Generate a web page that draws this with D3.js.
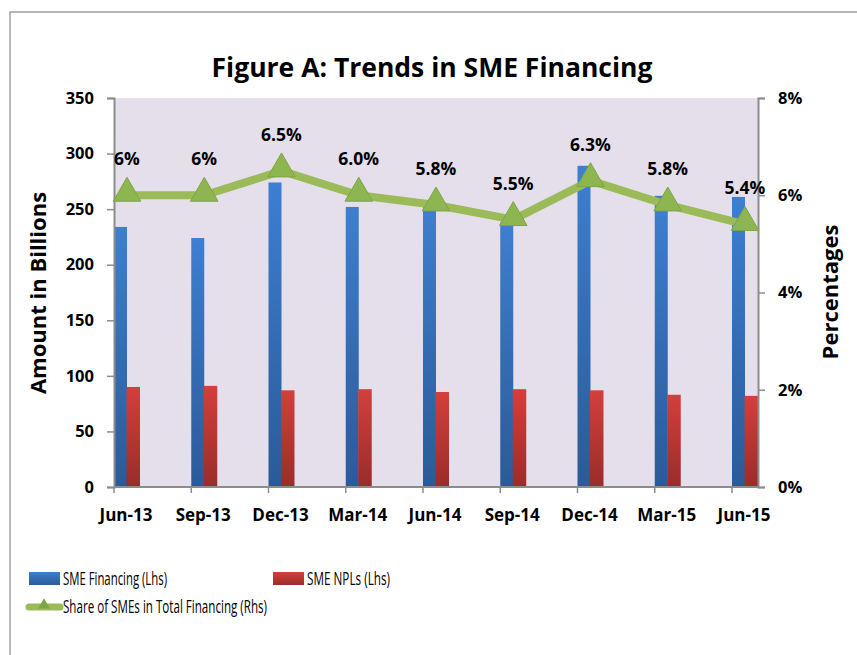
<!DOCTYPE html>
<html>
<head>
<meta charset="utf-8">
<script src="https://cdn.jsdelivr.net/npm/d3@7"></script>
<style>
  body { margin: 0; background: #fff; }
  text { font-family: 'Open Sans', sans-serif; }
</style>
</head>
<body>
<div id="chart"></div>
<script>
const months = ['Jun-13', 'Sep-13', 'Dec-13', 'Mar-14', 'Jun-14', 'Sep-14', 'Dec-14', 'Mar-15', 'Jun-15'];
const smeFinancing = [234, 224, 274, 252, 252, 238, 289, 262, 261];
const smeNpls = [90, 91, 87, 88, 85.5, 88, 87, 83, 82];
const smeShare = [6.0, 6.0, 6.5, 6.0, 5.8, 5.5, 6.3, 5.8, 5.4];
const shareLabels = ['6%', '6%', '6.5%', '6.0%', '5.8%', '5.5%', '6.3%', '5.8%', '5.4%'];
const leftTicks = [0, 50, 100, 150, 200, 250, 300, 350];
const rightTicks = [0, 2, 4, 6, 8];

const width = 857;
const height = 655;
const plot = {left: 114, right: 758, top: 98, bottom: 487};

const svg = d3.select('#chart').append('svg')
  .attr('width', width)
  .attr('height', height);

const defs = svg.append('defs');
const grad = (id, top, bottom) => {
  const g = defs.append('linearGradient').attr('id', id)
    .attr('x1', 0).attr('y1', 0).attr('x2', 0).attr('y2', 1);
  g.append('stop').attr('offset', '0%').attr('stop-color', top);
  g.append('stop').attr('offset', '100%').attr('stop-color', bottom);
};
grad('blueGrad', '#3d7fd0', '#2b5a98');
grad('redGrad', '#d33f3c', '#992d2a');

// chart border
svg.append('rect')
  .attr('x', 10).attr('y', 12)
  .attr('width', 880).attr('height', 700)
  .attr('fill', 'none')
  .attr('stroke', '#a0a0a0')
  .attr('stroke-width', 1.5);

// plot area
svg.append('rect')
  .attr('x', plot.left).attr('y', plot.top)
  .attr('width', plot.right - plot.left).attr('height', plot.bottom - plot.top)
  .attr('fill', '#e5dfec');

const x = d3.scalePoint().domain(months).range([127, 745]);
const yLeft = d3.scaleLinear().domain([0, 350]).range([plot.bottom, plot.top]);
const yRight = d3.scaleLinear().domain([0, 8]).range([plot.bottom, plot.top]);

// bars
svg.append('g').selectAll('rect')
  .data(months)
  .enter().append('rect')
  .attr('x', (d) => x(d) - 13)
  .attr('y', (d, i) => yLeft(smeFinancing[i]))
  .attr('width', 13)
  .attr('height', (d, i) => plot.bottom - yLeft(smeFinancing[i]))
  .attr('fill', 'url(#blueGrad)');

svg.append('g').selectAll('rect')
  .data(months)
  .enter().append('rect')
  .attr('x', (d) => x(d) - 0.5)
  .attr('y', (d, i) => yLeft(smeNpls[i]))
  .attr('width', 13.5)
  .attr('height', (d, i) => plot.bottom - yLeft(smeNpls[i]))
  .attr('fill', 'url(#redGrad)');

// axes
const axisColor = '#8c8c8c';
const leftAxis = svg.append('g')
  .attr('transform', `translate(${plot.left},0)`)
  .call(d3.axisLeft(yLeft).tickValues(leftTicks).tickSize(7).tickPadding(13));

const rightAxis = svg.append('g')
  .attr('transform', `translate(${plot.right},0)`)
  .call(d3.axisRight(yRight).tickValues(rightTicks).tickSize(7).tickPadding(13)
    .tickFormat((d) => `${d}%`));

[leftAxis, rightAxis].forEach((a) => {
  a.select('.domain').attr('stroke', axisColor).attr('stroke-width', 2);
  a.selectAll('.tick line').attr('stroke', axisColor).attr('stroke-width', 1.5);
  a.selectAll('.tick text')
    .attr('fill', '#000')
    .style('font-size', '16.5px')
    .style('font-weight', 'bold');
});

// bottom axis
const bottom = svg.append('g');
bottom.append('line')
  .attr('x1', plot.left).attr('x2', plot.right)
  .attr('y1', plot.bottom).attr('y2', plot.bottom)
  .attr('stroke', axisColor).attr('stroke-width', 2);
bottom.selectAll('.tk')
  .data(months)
  .enter().append('line')
  .attr('x1', (d) => x(d) - 13).attr('x2', (d) => x(d) - 13)
  .attr('y1', plot.bottom).attr('y2', plot.bottom + 6)
  .attr('stroke', axisColor).attr('stroke-width', 1.5);
bottom.selectAll('text')
  .data(months)
  .enter().append('text')
  .attr('x', (d) => x(d) - 1)
  .attr('y', 521)
  .attr('text-anchor', 'middle')
  .style('font-size', '17px')
  .style('font-weight', 'bold')
  .text((d) => d);

// line series
const line = d3.line()
  .x((d, i) => x(months[i]))
  .y((d) => yRight(d));

svg.append('path')
  .datum(smeShare)
  .attr('d', line)
  .attr('fill', 'none')
  .attr('stroke', '#9bbb59')
  .attr('stroke-width', 8)
  .attr('stroke-linejoin', 'round');

const tri = d3.symbol().type(d3.symbolTriangle).size(330);
svg.append('g').selectAll('path')
  .data(smeShare)
  .enter().append('path')
  .attr('d', tri)
  .attr('transform', (d, i) => `translate(${x(months[i])},${yRight(d) - 2})`)
  .attr('fill', '#8db550')
  .attr('stroke', '#7ea545')
  .attr('stroke-width', 1);

svg.append('g').selectAll('text')
  .data(smeShare)
  .enter().append('text')
  .attr('x', (d, i) => x(months[i]))
  .attr('y', (d) => yRight(d) - 30)
  .attr('text-anchor', 'middle')
  .style('font-size', '17.5px')
  .style('font-weight', 'bold')
  .text((d, i) => shareLabels[i]);

// titles
svg.append('text')
  .attr('x', 432).attr('y', 77)
  .attr('text-anchor', 'middle')
  .style('font-size', '26.5px')
  .style('font-weight', 'bold')
  .text('Figure A: Trends in SME Financing');

svg.append('text')
  .attr('transform', 'translate(46,293) rotate(-90)')
  .attr('text-anchor', 'middle')
  .style('font-size', '22px')
  .style('font-weight', 'bold')
  .text('Amount in Billions');

svg.append('text')
  .attr('transform', 'translate(838,292) rotate(-90)')
  .attr('text-anchor', 'middle')
  .style('font-size', '22px')
  .style('font-weight', 'bold')
  .text('Percentages');

// legend
const legend = svg.append('g').style('font-size', '18px');
legend.append('rect').attr('x', 29).attr('y', 572).attr('width', 31).attr('height', 13)
  .attr('fill', 'url(#blueGrad)');
legend.append('text').attr('x', 63).attr('y', 585)
  .attr('textLength', 104).attr('lengthAdjust', 'spacingAndGlyphs')
  .text('SME Financing (Lhs)');
legend.append('rect').attr('x', 273).attr('y', 572).attr('width', 31).attr('height', 13)
  .attr('fill', 'url(#redGrad)');
legend.append('text').attr('x', 307).attr('y', 585)
  .attr('textLength', 83).attr('lengthAdjust', 'spacingAndGlyphs')
  .text('SME NPLs  (Lhs)');
legend.append('line').attr('x1', 29).attr('x2', 60).attr('y1', 607).attr('y2', 607)
  .attr('stroke', '#9bbb59').attr('stroke-width', 7).attr('stroke-linecap', 'round');
legend.append('path').attr('d', d3.symbol().type(d3.symbolTriangle).size(60))
  .attr('transform', 'translate(44,605)').attr('fill', '#7ea545');
legend.append('text').attr('x', 63).attr('y', 613)
  .attr('textLength', 204).attr('lengthAdjust', 'spacingAndGlyphs')
  .text('Share of SMEs in Total Financing  (Rhs)');
</script>
</body>
</html>
